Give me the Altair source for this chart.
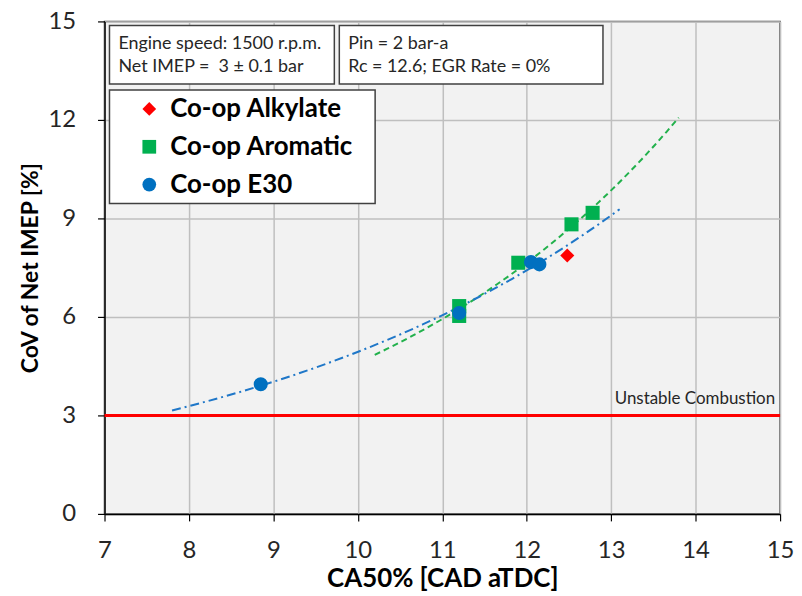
import altair as alt
import pandas as pd

# ---- data ----
fuels = ["Co-op Alkylate", "Co-op Aromatic", "Co-op E30"]
colors = ["#ff0000", "#00b050", "#0070c0"]
shapes = ["diamond", "square", "circle"]

alk_x = [12.48]
alk_y = [7.87]
aro_x = [11.2, 11.2, 11.9, 12.53, 12.78]
aro_y = [6.33, 6.03, 7.65, 8.82, 9.17]
e30_x = [8.85, 11.2, 12.05, 12.15]
e30_y = [3.95, 6.12, 7.67, 7.60]

aro_fit_extent = [10.2, 13.8]
e30_fit_extent = [7.8, 13.1]

x_ticks = [7, 8, 9, 10, 11, 12, 13, 14, 15]
y_ticks = [0, 3, 6, 9, 12, 15]

limit_y = [3]
limit_label = ["Unstable Combustion"]

box1_text = ["Engine speed: 1500 r.p.m.\nNet IMEP =\u00a0 3 \u00b1 0.1 bar"]
box2_text = ["Pin = 2 bar-a\nRc = 12.6; EGR Rate = 0%"]

FONT = "Lato"

# ---- tables ----
pts = pd.concat([
    pd.DataFrame({"x": alk_x, "y": alk_y, "fuel": fuels[0]}),
    pd.DataFrame({"x": aro_x, "y": aro_y, "fuel": fuels[1]}),
    pd.DataFrame({"x": e30_x, "y": e30_y, "fuel": fuels[2]}),
], ignore_index=True)

X = alt.X("x:Q", scale=alt.Scale(domain=[7, 15], nice=False, zero=False),
          axis=alt.Axis(values=x_ticks, title="CA50% [CAD aTDC]", format="d",
                        labelFlush=False, labelOverlap=False))
Y = alt.Y("y:Q", scale=alt.Scale(domain=[0, 15], nice=False, zero=False),
          axis=alt.Axis(values=y_ticks, title="CoV of Net IMEP [%]", format="d",
                        labelFlush=False, labelOverlap=False))

legend = alt.Legend(title=None, orient="none", legendX=32, legendY=75,
                    labelFontSize=26, labelFont=FONT, labelFontWeight="bold",
                    labelColor="black", symbolSize=190, symbolStrokeWidth=0,
                    rowPadding=12, padding=0, labelOffset=8, labelLimit=400)

points = alt.Chart(pts).mark_point(filled=True, opacity=1, strokeWidth=0).encode(
    x=X, y=Y,
    color=alt.Color("fuel:N", scale=alt.Scale(domain=fuels, range=colors), legend=legend),
    shape=alt.Shape("fuel:N", scale=alt.Scale(domain=fuels, range=shapes), legend=legend),
    size=alt.value(200),
)

aro_fit = alt.Chart(pts).transform_filter(
    alt.datum.fuel == fuels[1]
).transform_regression("x", "y", method="exp", extent=aro_fit_extent).mark_line(
    color="#22b14c", strokeWidth=2, strokeDash=[6, 4]
).encode(x=X, y=Y)

e30_fit = alt.Chart(pts).transform_filter(
    alt.datum.fuel == fuels[2]
).transform_regression("x", "y", method="exp", extent=e30_fit_extent).mark_line(
    color="#1f77c8", strokeWidth=2, strokeDash=[9, 4, 2, 4]
).encode(x=X, y=Y)

limit_df = pd.DataFrame({"y": limit_y})
limit_rule = alt.Chart(limit_df).mark_rule(color="#ff0000", strokeWidth=3).encode(y=Y)

limit_text_df = pd.DataFrame({"x": [15], "y": limit_y, "t": limit_label})
limit_text = alt.Chart(limit_text_df).mark_text(
    align="right", baseline="alphabetic", dx=-5, dy=-11, fontSize=17, font=FONT, color="#262626"
).encode(x=X, y=Y, text="t:N")

one = alt.Data(values=[{"a": 1}])


def box(x, x2, y, y2):
    return alt.Chart(one).mark_rect(fill="white", stroke="#404040", strokeWidth=1.5).encode(
        x=alt.value(x), x2=alt.value(x2), y=alt.value(y), y2=alt.value(y2))


def note(lines, x, y):
    return alt.Chart(pd.DataFrame({"t": lines})).mark_text(
        align="left", baseline="alphabetic", fontSize=18, font=FONT, color="#262626",
        lineBreak="\n", lineHeight=23
    ).encode(x=alt.value(x), y=alt.value(y), text="t:N")


chart = alt.layer(
    limit_rule, aro_fit, e30_fit, points, limit_text,
    box(5, 231, 4, 63), box(236, 501, 4, 63), box(5, 272, 69, 183),
    note(box1_text, 14, 28), note(box2_text, 245, 28),
).properties(
    width=679, height=495,
    autosize=alt.AutoSizeParams(type="none"),
    padding={"left": 97, "top": 12, "right": 14, "bottom": 79},
).configure_view(
    fill="#f2f2f2", stroke="#404040", strokeWidth=1.5
).configure_axis(
    labelFont=FONT, labelFontSize=24, labelColor="#262626",
    titleFont=FONT, titleFontWeight="bold", titleColor="black",
    gridColor="#bfbfbf", gridWidth=1.5,
    domainColor="black", domainWidth=1.5, tickColor="black", tickSize=7, tickWidth=1.2,
).configure_axisX(
    labelPadding=18, titlePadding=3, titleFontSize=26
).configure_axisY(
    labelPadding=22, titlePadding=6, titleFontSize=23
)

chart.save("out.html", embed_options={"renderer": "svg", "actions": False})
